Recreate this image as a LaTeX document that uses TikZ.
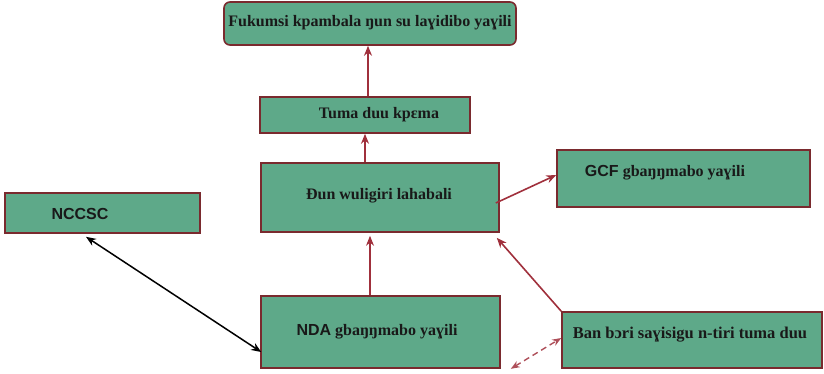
\documentclass[tikz,border=0pt]{standalone}
\usepackage{fontspec}
\setmainfont{Liberation Serif}
\setsansfont{Liberation Sans}
\usetikzlibrary{calc,arrows.meta}
\definecolor{boxgreen}{RGB}{94,169,137}
\definecolor{boxedge}{RGB}{122,42,46}
\definecolor{arrowred}{RGB}{160,48,60}
\tikzset{
  box/.style={draw=boxedge,fill=boxgreen,line width=1.6pt,inner sep=0pt},
  lbl/.style={font=\fontsize{16}{18}\selectfont\bfseries,inner sep=0pt,text=black!90},
  redarrow/.style={draw=arrowred,line width=1.6pt,-{Stealth[length=10pt,width=8pt]}},
  thinarrow/.style={draw=arrowred,line width=1.1pt,-{Stealth[length=10pt,width=8pt]}},
  blackarrow/.style={draw=black,line width=1.5pt,{Stealth[length=10pt,width=8pt]}-{Stealth[length=10pt,width=8pt]}},
  dasharrow/.style={draw=arrowred!85,line width=1.4pt,dash pattern=on 6pt off 4pt,{Stealth[length=9pt,width=7pt]}-{Stealth[length=9pt,width=7pt]}}
}
\begin{document}
\begin{tikzpicture}[x=1pt,y=-1pt]
\useasboundingbox (0,0) rectangle (824,373);
% boxes
\node[box,rounded corners=6pt,minimum width=292pt,minimum height=43pt] (top) at (370,23.5) {};
\node[box,minimum width=210pt,minimum height=36pt] (tuma) at (365,115) {};
\node[box,minimum width=238pt,minimum height=69pt] (dun) at (380,197.5) {};
\node[box,minimum width=253pt,minimum height=57pt] (gcf) at (683.5,178.5) {};
\node[box,minimum width=195pt,minimum height=40pt] (nccsc) at (102.5,213) {};
\node[box,minimum width=239pt,minimum height=72pt] (nda) at (380.5,332) {};
\node[box,minimum width=260pt,minimum height=56pt] (ban) at (692,340) {};
% labels
\node[lbl] (ttop) at (370,23) {Fukumsi kpambala ŋun su laɣidibo yaɣili};
\node[lbl] (ttuma) at (379,115) {Tuma duu kpɛma};
\node[lbl] (tdun) at (379,196) {Ɖun wuligiri lahabali};
\node[lbl] (tnccsc) at (80,214) {\sffamily NCCSC};
\node[lbl] (tgcf) at (665,173) {\textsf{GCF} gbaŋŋmabo yaɣili};
\node[lbl] (tnda) at (377,332) {\textsf{NDA} gbaŋŋmabo yaɣili};
\node[lbl,font=\fontsize{16.5}{18}\selectfont\bfseries] (tban) at (690,335) {Ban bɔri saɣisigu n-tiri tuma duu};
% connectors
\draw[redarrow] ($(tuma.north)+(3,0)$) -- ($(tuma.north |- top.south)+(3,0)$);
\draw[redarrow] (tuma.south |- dun.north) -- (tuma.south);
\draw[thinarrow] ($(nda.north)+(-10.5,0)$) -- ($(nda.north |- dun.south)+(-10.5,3)$);
\draw[redarrow] ($(dun.east)+(-4,5.5)$) -- ($(gcf.west)+(0,-3.5)$);
\draw[redarrow] (ban.north west) -- ($(dun.south east)+(-3,5)$);
\draw[blackarrow] ($(nccsc.south)+(-16.5,3)$) -- ($(nda.west)+(1,20)$);
\draw[dasharrow] ($(nda.south east)+(10,0)$) -- ($(ban.west)+(0,-2)$);
\end{tikzpicture}
\end{document}
